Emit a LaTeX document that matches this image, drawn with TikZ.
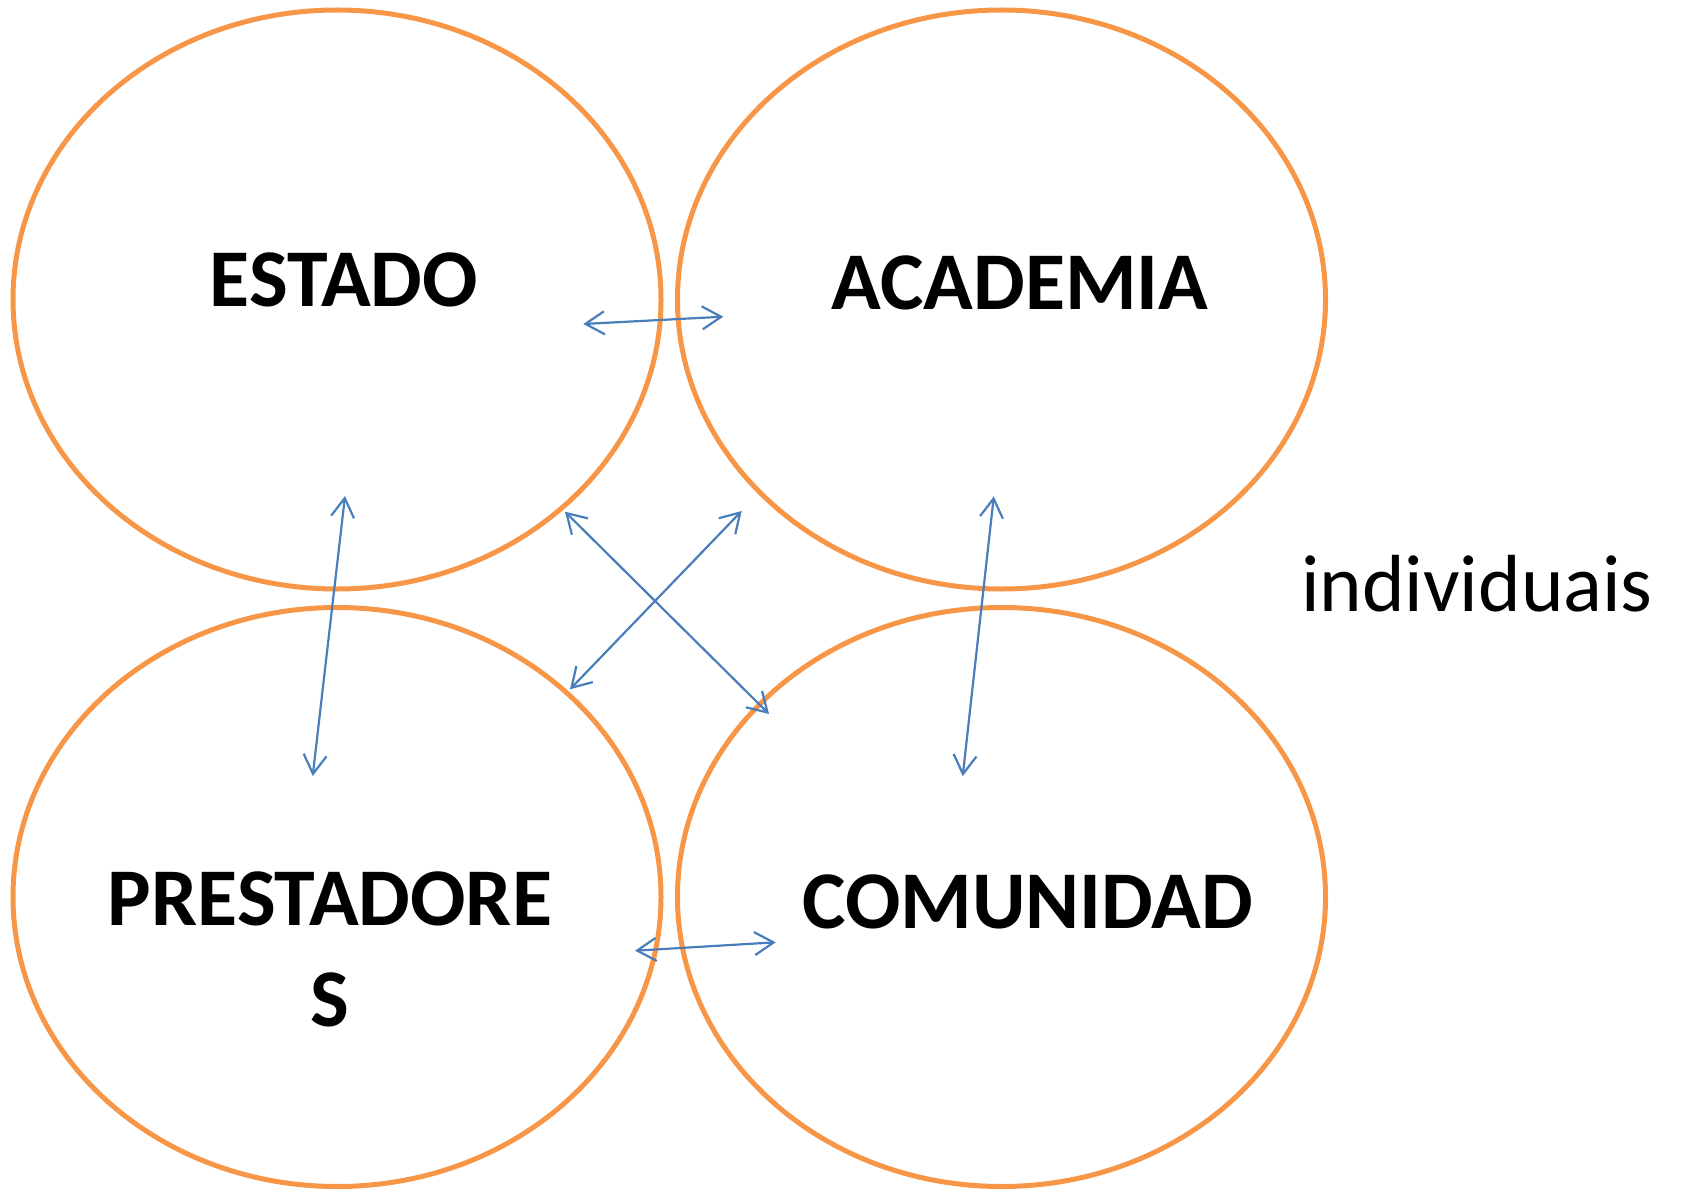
\documentclass[tikz,border=0pt]{standalone}
\usepackage{fontspec}
\setmainfont{Carlito}
\usetikzlibrary{shapes.geometric,arrows.meta}
\definecolor{ringorange}{HTML}{F79646}
\definecolor{linkblue}{HTML}{4A7EBB}
\tikzset{
  ring/.style={ellipse, draw=ringorange, line width=5pt, inner sep=0pt,
    minimum width=648pt, minimum height=579pt},
  label/.style={font=\fontsize{82}{101}\selectfont\bfseries, inner sep=0pt, anchor=base, align=center},
  link/.style={draw=linkblue, line width=2.2pt,
    {Straight Barb[length=19pt,width=23pt]}-{Straight Barb[length=19pt,width=23pt]}}
}
\begin{document}
\begin{tikzpicture}[x=1pt,y=-1pt]
\useasboundingbox (0,0) rectangle (1681,1190);
\node[ring] (estado) at (337,299.5) {};
\node[ring] (academia) at (1001.5,299.5) {};
\node[ring] (prestadores) at (337,897) {};
\node[ring] (comunidad) at (1001.5,897) {};

\node[label] (testado) at (344,307) {ESTADO};
\node[label] (tacademia) at (1020,309) {ACADEMIA};
\node[label] (tcomunidad) at (1027.5,928) {COMUNIDAD};
\node[label] (tprest) at (330,1026) {PRESTADORE\\S};
\node[font=\fontsize{81}{96}\selectfont, inner sep=0pt, anchor=base] (indiv) at (1477,611) {individuais};

\coordinate (a1) at (583.3,324);
\coordinate (b1) at (723.3,316.7);
\coordinate (a2) at (345,496);
\coordinate (b2) at (312.7,776);
\coordinate (a3) at (565,511.7);
\coordinate (b3) at (769,714);
\coordinate (a4) at (741.7,511);
\coordinate (b4) at (570,689.3);
\coordinate (a5) at (993.8,496.4);
\coordinate (b5) at (962.7,776.2);
\coordinate (a6) at (635,950.7);
\coordinate (b6) at (775.7,942.3);

\draw[link] (a1) -- (b1);
\draw[link] (a2) -- (b2);
\draw[link] (a3) -- (b3);
\draw[link] (a4) -- (b4);
\draw[link] (a5) -- (b5);
\draw[link] (a6) -- (b6);
\end{tikzpicture}
\end{document}
